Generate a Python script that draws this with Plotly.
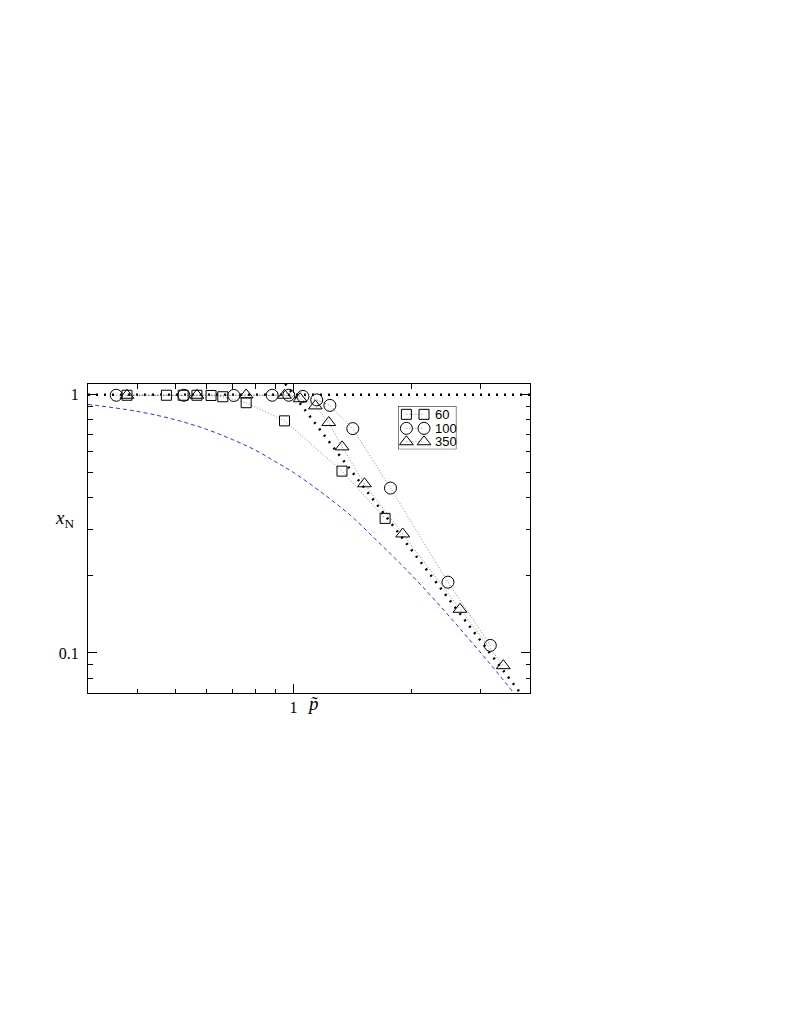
import plotly.graph_objects as go
import numpy as np

# ---------------- data ----------------
p60 = [0.377, 0.475, 0.524, 0.568, 0.617, 0.661, 0.758, 0.949, 1.329, 1.711]
x60 = [0.995, 0.995, 0.995, 0.995, 0.993, 0.982, 0.931, 0.792, 0.506, 0.332]

p100 = [0.354, 0.526, 0.705, 0.883, 0.973, 1.057, 1.146, 1.238, 1.416, 1.766, 2.473, 3.17]
x100 = [0.995, 0.995, 0.993, 0.995, 0.995, 0.985, 0.955, 0.909, 0.739, 0.435, 0.188, 0.107]

p350 = [0.377, 0.568, 0.758, 0.949, 1.04, 1.137, 1.23, 1.33, 1.516, 1.897, 2.653, 3.42]
x350 = [0.995, 0.995, 0.998, 0.995, 0.965, 0.905, 0.78, 0.628, 0.452, 0.289, 0.1476, 0.0893]

# blue dashed curve
p_blue = [0.3, 0.4, 0.5, 0.6, 0.7, 0.8, 0.9, 1.0, 1.2, 1.4, 1.6, 1.8, 2.0, 2.4, 2.8, 3.2, 3.61]
x_blue = [0.917, 0.862, 0.80, 0.735, 0.67, 0.61, 0.55, 0.50, 0.41, 0.34, 0.28, 0.235, 0.20,
          0.148, 0.113, 0.089, 0.071]

# black dotted asymptotes
p_flat = [0.3, 4.0]
x_flat = [1.0, 1.0]
p_diag = [0.953, 3.78]
x_diag = [1.10, 0.070]

series_names = ["60", "100", "350"]
series_symbols = ["square-open", "circle-open", "triangle-up-open"]
series_sizes = [10, 12, 12]

# tick values
x_major = [1]
x_major_text = ["1"]
x_minor = [0.4, 0.5, 0.6, 0.7, 0.8, 0.9, 2, 3]
y_major = [0.1, 1]
y_major_text = ["0.1", "1"]
y_minor = [0.08, 0.09, 0.2, 0.3, 0.4, 0.5, 0.6, 0.7, 0.8, 0.9]

# ---------------- figure ----------------
fig = go.Figure()

fig.add_trace(go.Scatter(x=p_blue, y=x_blue, mode="lines", line_shape="spline",
                         line=dict(color="rgb(30,50,255)", width=1, dash="4px,3px"),
                         showlegend=False, hoverinfo="skip"))
fig.add_trace(go.Scatter(x=p_flat, y=x_flat, mode="lines",
                         line=dict(color="black", width=2.5, dash="2px,6px"),
                         showlegend=False, hoverinfo="skip"))
fig.add_trace(go.Scatter(x=p_diag, y=x_diag, mode="lines",
                         line=dict(color="black", width=2.5, dash="2px,6px"),
                         showlegend=False, hoverinfo="skip"))

for px_, py_, name, sym, sz in zip([p60, p100, p350], [x60, x100, x350],
                                   series_names, series_symbols, series_sizes):
    fig.add_trace(go.Scatter(x=px_, y=py_, mode="lines+markers", name=name,
                             line=dict(color="rgb(100,100,100)", width=0.8, dash="1px,2px"),
                             marker=dict(symbol=sym, size=sz, color="black",
                                         line=dict(width=1, color="black")),
                             showlegend=False))

# ---------------- custom legend (overlay axes in pixel units) ----------------
leg_y = [8.3, 22.3, 35.7]
for ly, name, sym, sz in zip(leg_y, series_names, series_symbols, series_sizes):
    fig.add_trace(go.Scatter(x=[8.4, 26.0], y=[ly, ly], mode="lines+markers",
                             xaxis="x2", yaxis="y2",
                             line=dict(color="rgb(100,100,100)", width=0.8, dash="1px,2px"),
                             marker=dict(symbol=sym, size=sz, color="black",
                                         line=dict(width=1, color="black")),
                             showlegend=False, hoverinfo="skip"))
    fig.add_annotation(x=34.5, y=ly, xref="x2", yref="y2", text=name, showarrow=False,
                       xanchor="left", yanchor="middle",
                       font=dict(family="Liberation Sans, Arial", size=13, color="black"))

fig.add_shape(type="rect", xref="x2", yref="y2", x0=0, x1=58.4, y0=0, y1=43.3,
              line=dict(color="black", width=1))

# ---------------- layout ----------------
W, H = 773, 1005
L, T = 80.3, 376.0
PW, PH = 442.0, 308.7

tick_font = dict(family="Liberation Serif, Times New Roman", size=16, color="black")

fig.update_layout(
    width=W, height=H,
    margin=dict(l=L, t=T, r=W - L - PW, b=H - T - PH, pad=0),
    paper_bgcolor="white", plot_bgcolor="white",
    showlegend=False,
    xaxis=dict(type="log", range=[np.log10(0.3), np.log10(4.0)],
               showgrid=False, zeroline=False,
               showline=True, linecolor="black", linewidth=1, mirror="allticks",
               ticks="inside", ticklen=9, tickwidth=1, tickcolor="black",
               tickmode="array", tickvals=x_major, ticktext=x_major_text,
               tickfont=tick_font,
               minor=dict(tickmode="array", tickvals=x_minor, ticks="inside",
                          ticklen=4.5, tickwidth=1, tickcolor="black", showgrid=False)),
    yaxis=dict(type="log", range=[np.log10(0.07), np.log10(1.1)],
               showgrid=False, zeroline=False,
               showline=True, linecolor="black", linewidth=1, mirror="allticks",
               ticks="inside", ticklen=9, tickwidth=1, tickcolor="black",
               tickmode="array", tickvals=y_major, ticktext=y_major_text,
               tickfont=tick_font, ticklabelstandoff=5,
               minor=dict(tickmode="array", tickvals=y_minor, ticks="inside",
                          ticklen=4.5, tickwidth=1, tickcolor="black", showgrid=False)),
    xaxis2=dict(domain=[(390.3 - L) / PW, (448.7 - L) / PW], range=[0, 58.4],
                visible=False, fixedrange=True, anchor="y2"),
    yaxis2=dict(domain=[(T + PH - 441.3) / PH, (T + PH - 398.0) / PH], range=[43.3, 0],
                visible=False, fixedrange=True, anchor="x2"),
)

fig.add_annotation(x=(45 - L) / PW, y=(T + PH - 511) / PH, xref="paper", yref="paper",
                   text="<i>x</i><sub>N</sub>", showarrow=False,
                   font=dict(family="Liberation Serif, Times New Roman", size=19, color="black"))
fig.add_annotation(x=(305 - L) / PW, y=(T + PH - 708) / PH, xref="paper", yref="paper",
                   text="<i>p\u0303</i>", showarrow=False,
                   font=dict(family="Liberation Serif, Times New Roman", size=19, color="black"))

fig.write_html("out.html")
